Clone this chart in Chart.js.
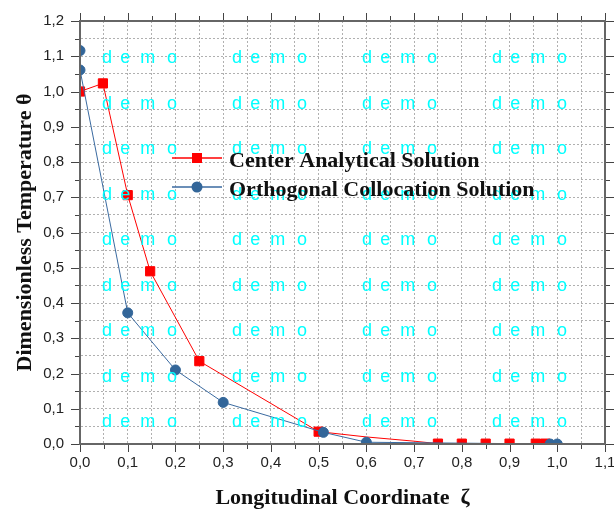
<!DOCTYPE html>
<html>
<head>
<meta charset="utf-8">
<script src="https://cdn.jsdelivr.net/npm/chart.js@4.4.1/dist/chart.umd.min.js"></script>
<style>
  html, body { margin: 0; padding: 0; background: #fff; }
  canvas { display: block; }
</style>
</head>
<body>
<canvas id="chart" width="614" height="516"></canvas>
<script>
// Center analytical solution (red squares)
const analyticX = [0, 0.048, 0.1, 0.147, 0.25, 0.5, 0.6, 0.7, 0.75, 0.8, 0.85, 0.9, 0.955, 0.975];
const analyticY = [1.0, 1.023, 0.706, 0.49, 0.235, 0.035, 0.02, 0.008, 0.001, 0.001, 0.001, 0.001, 0.001, 0.001];
// points on the red curve that have no marker
const analyticUnmarked = [0.6, 0.7];

// Orthogonal collocation solution (blue circles)
const collocX = [0, 0, 0.1, 0.2, 0.3, 0.51, 0.6, 0.985, 1.0];
const collocY = [1.116, 1.061, 0.372, 0.21, 0.118, 0.033, 0.005, 0, 0];

const seriesNames = ["Center Analytical Solution", "Orthogonal Collocation Solution"];
const xTitle = "Longitudinal Coordinate  \u03B6";
const yTitle = "Dimensionless Temperature \u03B8";
const watermark = ["d", "e", "m", "o"];

const serif = '"Liberation Serif", "Times New Roman", serif';
const sans = '"Liberation Sans", Arial, sans-serif';
const axisColor = '#666';

const toPoints = (xs, ys) => xs.map((x, i) => ({ x: x, y: ys[i] }));
const fmt = v => (Math.round(v * 100) % 10 === 0) ? v.toFixed(1).replace('.', ',') : '';

// keep the markers inside the plot frame
const clipPlot = {
  id: 'clipPlot',
  beforeDatasetsDraw(chart) {
    const a = chart.chartArea;
    chart.ctx.save();
    chart.ctx.beginPath();
    chart.ctx.rect(a.left, a.top, a.right - a.left, a.bottom - a.top);
    chart.ctx.clip();
  },
  afterDatasetsDraw(chart) {
    chart.ctx.restore();
  }
};

// tick marks on all four sides, pointing out
const tickMarks = {
  id: 'tickMarks',
  afterDraw(chart) {
    const { ctx, chartArea: a, scales: { x, y } } = chart;
    ctx.save();
    ctx.strokeStyle = '#444';
    ctx.lineWidth = 1;
    ctx.beginPath();
    x.ticks.forEach(t => {
      const px = Math.round(x.getPixelForValue(t.value)) + 0.5;
      const len = fmt(t.value) ? 8 : 5;
      ctx.moveTo(px, a.bottom); ctx.lineTo(px, a.bottom + len);
      ctx.moveTo(px, a.top); ctx.lineTo(px, a.top - len);
    });
    y.ticks.forEach(t => {
      const py = Math.round(y.getPixelForValue(t.value)) + 0.5;
      const len = fmt(t.value) ? 9 : 5;
      ctx.moveTo(a.left, py); ctx.lineTo(a.left - len, py);
      ctx.moveTo(a.right, py); ctx.lineTo(a.right + len, py);
    });
    ctx.stroke();
    // frame: left and bottom redrawn over the clipped markers, plus top and right
    ctx.strokeStyle = axisColor;
    ctx.lineWidth = 2;
    ctx.beginPath();
    ctx.rect(a.left, a.top, a.right - a.left, a.bottom - a.top);
    ctx.stroke();
    ctx.restore();
  }
};

// "demo" watermark over the plot
const demoMark = {
  id: 'demoMark',
  afterDatasetsDraw(chart) {
    const ctx = chart.ctx;
    const offsets = [0, 18.3, 38.3, 65];
    ctx.save();
    ctx.fillStyle = '#00ffff';
    ctx.font = '18px ' + sans;
    ctx.textBaseline = 'alphabetic';
    for (let r = 0; r < 9; r++) {
      for (let c = 0; c < 4; c++) {
        watermark.forEach((ch, k) => {
          ctx.fillText(ch, 102 + c * 130 + offsets[k], 63 + r * 45.5);
        });
      }
    }
    ctx.restore();
  }
};

// legend drawn inside the plot
const innerLegend = {
  id: 'innerLegend',
  afterDraw(chart) {
    const ctx = chart.ctx;
    const rows = [158, 187];
    ctx.save();
    chart.data.datasets.forEach((ds, i) => {
      const yy = rows[i];
      ctx.strokeStyle = ds.borderColor;
      ctx.lineWidth = 1.5;
      ctx.beginPath();
      ctx.moveTo(172, yy); ctx.lineTo(222, yy);
      ctx.stroke();
      ctx.fillStyle = ds.pointBackgroundColor;
      if (ds.pointStyle === 'rect') {
        ctx.fillRect(192, yy - 5, 10, 10);
      } else {
        ctx.beginPath();
        ctx.arc(197, yy, 5.5, 0, Math.PI * 2);
        ctx.fill();
      }
      ctx.fillStyle = '#111';
      ctx.font = 'bold 22px ' + serif;
      ctx.textBaseline = 'alphabetic';
      ctx.fillText(ds.label, 229, yy + 8.5);
    });
    ctx.restore();
  }
};

new Chart(document.getElementById('chart'), {
  type: 'line',
  data: {
    datasets: [
      {
        label: seriesNames[0],
        data: toPoints(analyticX, analyticY),
        borderColor: '#ff0000',
        backgroundColor: '#ff0000',
        pointBackgroundColor: '#ff0000',
        pointBorderColor: '#ff0000',
        pointStyle: 'rect',
        pointRadius: c => analyticUnmarked.includes(analyticX[c.dataIndex]) ? 0 : 6.5,
        borderWidth: 1,
        tension: 0,
        order: 2
      },
      {
        label: seriesNames[1],
        data: toPoints(collocX, collocY),
        borderColor: '#3a6aa0',
        backgroundColor: '#336699',
        pointBackgroundColor: '#336699',
        pointBorderColor: '#336699',
        pointStyle: 'circle',
        pointRadius: 5,
        borderWidth: 1,
        tension: 0,
        order: 1
      }
    ]
  },
  options: {
    responsive: false,
    animation: false,
    layout: { padding: { top: 21, right: 9, left: 0, bottom: 0 } },
    plugins: {
      legend: { display: false },
      tooltip: { enabled: false }
    },
    scales: {
      x: {
        type: 'linear',
        min: 0,
        max: 1.1,
        afterFit: s => { s.height = 72; s.paddingLeft = 0; s.paddingRight = 0; },
        ticks: {
          stepSize: 0.05,
          autoSkip: false,
          maxRotation: 0,
          padding: 10,
          color: '#222',
          font: { family: sans, size: 15 },
          callback: v => fmt(v)
        },
        grid: { color: '#b0b0b0', lineWidth: 1, drawTicks: false },
        border: { display: true, color: axisColor, width: 2, dash: [2, 2] },
        title: {
          display: true,
          text: xTitle,
          color: '#111',
          font: { family: serif, size: 22, weight: 'bold' },
          padding: { top: 0, bottom: 4 }
        }
      },
      y: {
        min: 0,
        max: 1.2,
        afterFit: s => { s.width = 80; s.paddingTop = 0; s.paddingBottom = 0; },
        ticks: {
          stepSize: 0.05,
          autoSkip: false,
          padding: 16,
          color: '#222',
          font: { family: sans, size: 15 },
          callback: v => fmt(v)
        },
        grid: { color: '#b0b0b0', lineWidth: 1, drawTicks: false },
        border: { display: true, color: axisColor, width: 2, dash: [2, 2] },
        title: {
          display: true,
          text: yTitle,
          color: '#111',
          font: { family: serif, size: 22, weight: 'bold' },
          padding: { top: 12, bottom: 0 }
        }
      }
    }
  },
  plugins: [clipPlot, demoMark, innerLegend, tickMarks]
});
</script>
</body>
</html>
